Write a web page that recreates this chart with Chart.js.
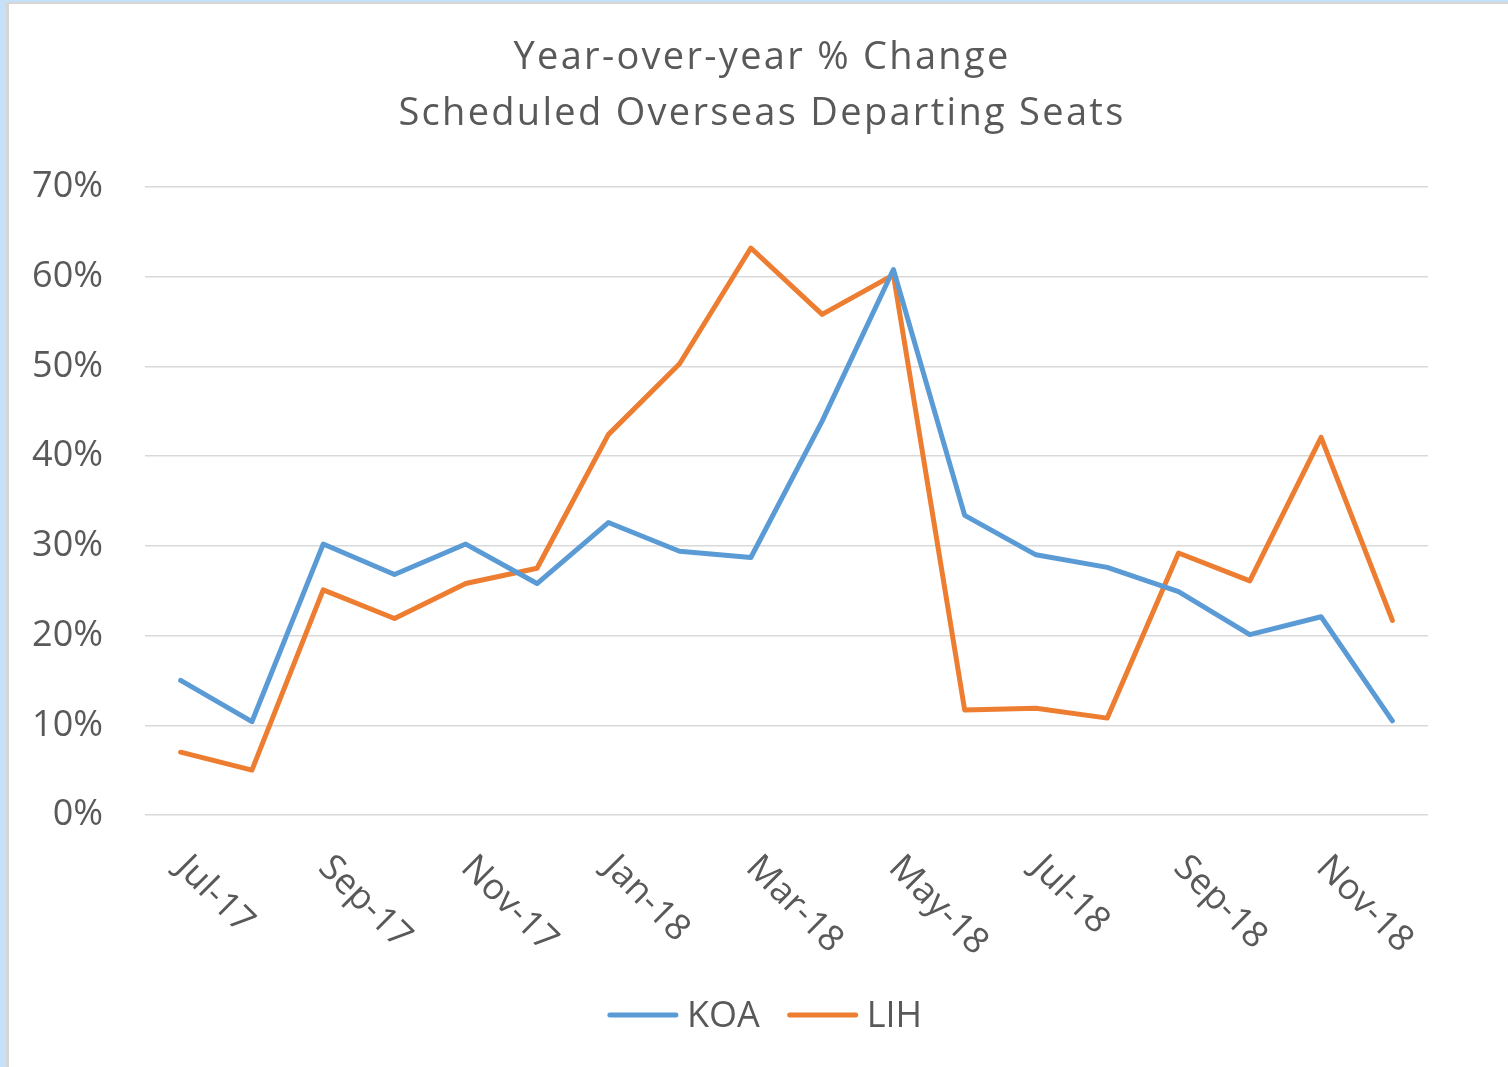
<!DOCTYPE html>
<html>
<head>
<meta charset="utf-8">
<script src="https://cdn.jsdelivr.net/npm/chart.js@4/dist/chart.umd.min.js"></script>
<style>
  html, body { margin: 0; padding: 0; background: #c6e0fa; width: 1508px; height: 1067px; overflow: hidden; }
  #frame { position: absolute; left: 6px; top: 2px; width: 1499px; height: 1063px; background: #fff;
           border-left: 3px solid #d6d6d6; border-top: 2px solid #d6d6d6; }
  #wrap { position: absolute; left: 0; top: 0; width: 1499px; height: 1063px; }
</style>
</head>
<body>
<div id="frame"><div id="wrap"><canvas id="c"></canvas></div></div>
<script>
const months = ["Jul-17","Aug-17","Sep-17","Oct-17","Nov-17","Dec-17","Jan-18","Feb-18","Mar-18","Apr-18","May-18","Jun-18","Jul-18","Aug-18","Sep-18","Oct-18","Nov-18","Dec-18"];
const koa = [15.0, 10.4, 30.2, 26.8, 30.2, 25.8, 32.6, 29.4, 28.7, 43.9, 60.8, 33.4, 29.0, 27.6, 24.9, 20.1, 22.1, 10.5];
const lih = [7.0, 5.0, 25.1, 21.9, 25.8, 27.5, 42.4, 50.3, 63.2, 55.8, 60.2, 11.7, 11.9, 10.8, 29.2, 26.1, 42.1, 21.7];
const yTicks = [0, 10, 20, 30, 40, 50, 60, 70];
const titleLines = ["Year-over-year % Change", "Scheduled Overseas Departing Seats"];

const FONT = "'Open Sans', 'Noto Sans', sans-serif";
const GREY = "#595959";

const decorPlugin = {
  id: "decor",
  afterDraw(chart) {
    const ctx = chart.ctx;
    const sc = chart.scales.x;
    // rotated x labels (every other month)
    ctx.save();
    ctx.font = "36px " + FONT;
    ctx.fillStyle = GREY;
    ctx.textAlign = "left";
    ctx.textBaseline = "middle";
    months.forEach((m, i) => {
      if (i % 2 !== 0) return;
      const x = sc.getPixelForValue(i);
      ctx.save();
      ctx.translate(x + 1, chart.chartArea.bottom + 47);
      ctx.rotate(Math.PI / 4);
      ctx.fillText(m, 0, 0);
      ctx.restore();
    });
    ctx.restore();

    // title
    ctx.save();
    ctx.font = "38px " + FONT;
    ctx.fillStyle = GREY;
    ctx.textAlign = "center";
    ctx.textBaseline = "middle";
    if ("letterSpacing" in ctx) ctx.letterSpacing = "2.3px";
    ctx.fillText(titleLines[0], 753, 54);
    ctx.fillText(titleLines[1], 753, 110);
    ctx.restore();

    // legend
    ctx.save();
    ctx.font = "36px " + FONT;
    ctx.textBaseline = "middle";
    ctx.textAlign = "left";
    const lineLen = 70, gapTxt = 9, gapItem = 28;
    const items = chart.data.datasets.map(d => ({ label: d.label, color: d.borderColor, w: ctx.measureText(d.label).width }));
    let total = 0;
    items.forEach((it, k) => { total += lineLen + gapTxt + it.w + (k ? gapItem : 0); });
    let x = 756 - total / 2;
    const y = 1011;
    items.forEach((it, k) => {
      if (k) x += gapItem;
      ctx.strokeStyle = it.color;
      ctx.lineWidth = 5;
      ctx.lineCap = "round";
      ctx.beginPath();
      ctx.moveTo(x + 2, y);
      ctx.lineTo(x + lineLen - 2, y);
      ctx.stroke();
      x += lineLen + gapTxt;
      ctx.fillStyle = GREY;
      ctx.fillText(it.label, x, y + 2);
      x += it.w;
    });
    ctx.restore();
  }
};

new Chart(document.getElementById("c"), {
  type: "line",
  data: {
    labels: months,
    datasets: [
      { label: "KOA", data: koa, borderColor: "#5b9bd5", backgroundColor: "#5b9bd5", borderWidth: 5,
        pointRadius: 0, tension: 0, borderCapStyle: "round", borderJoinStyle: "round" },
      { label: "LIH", data: lih, borderColor: "#ed7d31", backgroundColor: "#ed7d31", borderWidth: 5,
        pointRadius: 0, tension: 0, borderCapStyle: "round", borderJoinStyle: "round" }
    ]
  },
  options: {
    responsive: true,
    maintainAspectRatio: false,
    animation: false,
    layout: { padding: { left: 0, right: 80, top: 183, bottom: 0 } },
    plugins: {
      title: { display: false },
      legend: { display: false },
      tooltip: { enabled: false }
    },
    scales: {
      x: {
        offset: true,
        grid: { display: false, drawTicks: false },
        border: { display: false },
        ticks: { display: false },
        afterFit(scale) { scale.height = 252; }
      },
      y: {
        min: 0, max: 70,
        afterFit(scale) { scale.width = 136; },
        afterBuildTicks(scale) { scale.ticks = yTicks.map(v => ({ value: v })); },
        grid: { color: "#d9d9d9", lineWidth: 1.5, drawTicks: false },
        border: { display: false },
        ticks: {
          color: GREY,
          font: { family: FONT, size: 36 },
          padding: 42,
          callback: v => v + "%"
        }
      }
    }
  },
  plugins: [decorPlugin]
});
</script>
</body>
</html>
